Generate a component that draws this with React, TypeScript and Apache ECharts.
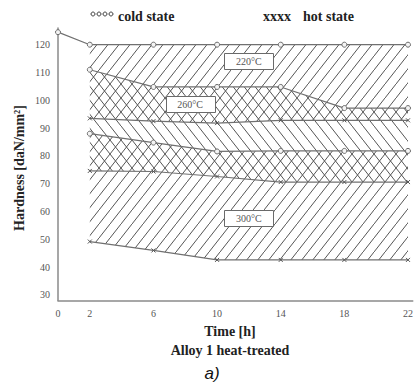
import React, { useEffect, useRef } from "react";
import * as echarts from "echarts";

const times = [2, 6, 10, 14, 18, 22];
const cold220Times = [0, 2, 6, 10, 14, 18, 22];
const cold220 = [124.5, 120, 120, 120, 120, 120, 120];
const hot220 = [93.5, 92.5, 91.8, 92.8, 92.8, 92.8];
const cold260 = [111, 104.8, 104.8, 104.8, 97.2, 97.2];
const hot260 = [74.6, 74.4, 72.6, 70.6, 70.6, 70.6];
const cold300 = [88, 84.8, 81.6, 81.8, 81.8, 81.8];
const hot300 = [49.2, 46, 42.6, 42.6, 42.6, 42.6];

const xTickLabels = [0, 2, 6, 10, 14, 18, 22];
const yTickLabels = [30, 40, 50, 60, 70, 80, 90, 100, 110, 120];

const regionNames = ["220°C", "260°C", "300°C"];
const regionLabelX = [12, 8.3, 12];
const regionLabelY = [114.2, 98.6, 57.5];

function makeHatch(mirror: boolean) {
  const w = 11;
  const h = 14;
  const c = document.createElement("canvas");
  c.width = w;
  c.height = h;
  const ctx = c.getContext("2d")!;
  if (mirror) {
    ctx.translate(w, 0);
    ctx.scale(-1, 1);
  }
  ctx.strokeStyle = "#555";
  ctx.lineWidth = 1;
  ctx.beginPath();
  for (const k of [-1, 0, 1]) {
    ctx.moveTo(k * w, h + k * h);
    ctx.lineTo(w + k * w, k * h);
  }
  ctx.stroke();
  return { image: c, repeat: "repeat", imageWidth: w, imageHeight: h } as any;
}

function regionSeries(upper: number[], lower: number[], fill: any) {
  return {
    type: "custom",
    z: 1,
    silent: true,
    data: [[0]],
    renderItem: (_p: any, api: any) => {
      const pts: number[][] = [];
      for (let i = 0; i < times.length; i++) pts.push(api.coord([times[i], upper[i]]));
      for (let i = times.length - 1; i >= 0; i--) pts.push(api.coord([times[i], lower[i]]));
      return { type: "polygon", shape: { points: pts }, style: { fill, stroke: "none" } };
    },
  };
}

const crossSymbol = "path://M0,0L10,10M10,0L0,10";

function coldLine(xs: number[], ys: number[]) {
  return {
    type: "line",
    z: 3,
    data: xs.map((x, i) => [x, ys[i]]),
    symbol: "circle",
    symbolSize: 5,
    showAllSymbol: true,
    lineStyle: { color: "#707070", width: 1.2 },
    itemStyle: { color: "#f4f4f4", borderColor: "#6a6a6a", borderWidth: 1 },
  };
}

function hotLine(ys: number[]) {
  return {
    type: "line",
    z: 3,
    data: times.map((x, i) => [x, ys[i]]),
    symbol: crossSymbol,
    symbolSize: 4,
    lineStyle: { color: "#707070", width: 1.2 },
    itemStyle: { color: "none", borderColor: "#555", borderWidth: 1 },
  };
}

export default function App() {
  const ref = useRef<HTMLDivElement>(null);
  useEffect(() => {
    const chart = echarts.init(ref.current!, null, { renderer: "svg" });
    const fwd = makeHatch(false);
    const back = makeHatch(true);
    const serif = "Liberation Serif";
    const legendDots = [93, 99, 105, 111].map((cx) => ({
      type: "circle",
      shape: { cx, cy: 14, r: 2 },
      style: { fill: "none", stroke: "#444", lineWidth: 1 },
    }));
    chart.setOption({
      animation: false,
      backgroundColor: "#fff",
      grid: { left: 58, right: 0, top: 28, bottom: 84.5 },
      xAxis: {
        type: "value",
        min: 0,
        max: 22.3,
        interval: 2,
        axisLine: { lineStyle: { color: "#8a8a8a", width: 1.5 } },
        axisTick: { show: false },
        splitLine: { show: false },
        axisLabel: {
          margin: 8,
          fontFamily: serif,
          fontSize: 10,
          color: "#555",
          formatter: (v: number) => (xTickLabels.includes(v) ? String(v) : ""),
        },
      },
      yAxis: {
        type: "value",
        min: 28,
        max: 126,
        interval: 2,
        axisLine: { show: true, lineStyle: { color: "#8a8a8a", width: 1.5 } },
        axisTick: { show: false },
        splitLine: { show: false },
        axisLabel: {
          margin: 8,
          fontFamily: serif,
          fontSize: 10,
          color: "#555",
          formatter: (v: number) => (yTickLabels.includes(v) ? String(v) : ""),
        },
      },
      graphic: [
        ...legendDots,
        { type: "text", left: 118, top: 9, style: { text: "cold state", fontFamily: serif, fontSize: 14, fontWeight: "bold", fill: "#222" } },
        { type: "text", left: 263, top: 9, style: { text: "xxxx", fontFamily: serif, fontSize: 14, fontWeight: "bold", fill: "#222" } },
        { type: "text", left: 303, top: 9, style: { text: "hot state", fontFamily: serif, fontSize: 14, fontWeight: "bold", fill: "#222" } },
        {
          type: "text",
          x: 19,
          y: 168,
          rotation: Math.PI / 2,
          style: { text: "Hardness [daN/mm²]", fontFamily: serif, fontSize: 14, fontWeight: "bold", fill: "#222", align: "center", verticalAlign: "middle" },
        },
        { type: "text", x: 230, y: 331, style: { text: "Time [h]", fontFamily: serif, fontSize: 14, fontWeight: "bold", fill: "#222", align: "center", verticalAlign: "middle" } },
        { type: "text", x: 230, y: 350, style: { text: "Alloy 1 heat-treated", fontFamily: serif, fontSize: 14, fontWeight: "bold", fill: "#222", align: "center", verticalAlign: "middle" } },
        { type: "text", x: 212, y: 373, style: { text: "a)", fontFamily: "Liberation Sans", fontSize: 17, fontStyle: "italic", fill: "#111", align: "center", verticalAlign: "middle" } },
      ],
      series: [
        regionSeries(cold220.slice(1), hot220, fwd),
        regionSeries(cold260, hot260, back),
        regionSeries(cold300, hot300, fwd),
        coldLine(cold220Times, cold220),
        coldLine(times, cold260),
        coldLine(times, cold300),
        hotLine(hot220),
        hotLine(hot260),
        hotLine(hot300),
        {
          type: "custom",
          z: 5,
          silent: true,
          data: regionNames.map((n, i) => [regionLabelX[i], regionLabelY[i], i]),
          renderItem: (_p: any, api: any) => {
            const [cx, cy] = api.coord([api.value(0), api.value(1)]);
            const name = regionNames[api.value(2)];
            return {
              type: "group",
              children: [
                {
                  type: "rect",
                  shape: { x: Math.round(cx - 24.5) + 0.5, y: Math.round(cy - 8) + 0.5, width: 49, height: 16 },
                  style: { fill: "#fff", stroke: "#6a6a6a", lineWidth: 1 },
                },
                {
                  type: "text",
                  x: cx,
                  y: cy + 0.5,
                  style: { text: name, fontFamily: serif, fontSize: 10, fill: "#555", align: "center", verticalAlign: "middle" },
                },
              ],
            };
          },
        },
      ],
    });
    return () => chart.dispose();
  }, []);
  return <div ref={ref} style={{ position: "absolute", left: 0, top: 0, width: 416, height: 385 }} />;
}
